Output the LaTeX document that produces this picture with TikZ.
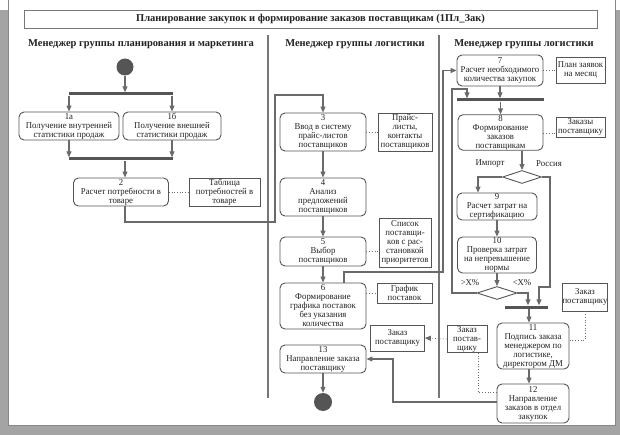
\documentclass[tikz,border=0pt]{standalone}
\usepackage{fontspec}
\setmainfont{Liberation Serif}
\newfontfamily\condfont[FakeStretch=0.97]{Liberation Serif}
\usetikzlibrary{arrows.meta,shapes.geometric}
\definecolor{bgc}{HTML}{A4A4A4}
\definecolor{boxc}{HTML}{555555}
\definecolor{linec}{HTML}{6A6A6A}
\definecolor{txtc}{HTML}{222222}
\newcommand{\fs}{\condfont\fontsize{9}{9}\selectfont}
\tikzset{
  act/.style={draw=boxc, line width=0.9pt, rounded corners=5pt, fill=white, align=center, inner sep=0.3pt, font=\fs, text=txtc},
  notebox/.style={draw=boxc, line width=0.8pt, fill=white, align=center, inner sep=0.3pt, font=\fs, text=txtc},
  barnode/.style={fill=boxc, draw=none, minimum height=3pt, inner sep=0pt},
  flow/.style={draw=linec, line width=1.1pt, -{Triangle[length=6pt,width=5pt]}},
  dotline/.style={draw=linec, line width=0.7pt, dotted},
  dec/.style={diamond, draw=boxc, line width=0.9pt, fill=white, inner sep=0pt, aspect=3},
  lbl/.style={font=\fs, text=txtc, inner sep=0pt},
  hdr/.style={font=\fontsize{10.5}{12}\selectfont\bfseries, text=txtc, inner sep=0pt},
  lane/.style={draw=boxc!80, line width=2.4pt},
  startdot/.style={circle, fill=boxc, minimum size=17pt, inner sep=0pt}
}
\begin{document}
\begin{tikzpicture}[x=1pt,y=-1pt]
\useasboundingbox (0,0) rectangle (620,435);
% page and shadow
\fill[bgc] (0,10) rectangle (620,435);
\fill[white] (8,0) rectangle (615,425);
\draw[boxc!70, line width=0.8pt] (8.4,-1) -- (8.4,425) -- (615,425) -- (615,-1);
% title
\node[draw=boxc!80, line width=0.9pt, minimum width=573pt, minimum height=18pt, inner sep=0pt, font=\fontsize{10.5}{12}\selectfont\bfseries, text=txtc] (title) at (310.5,19) {Планирование закупок и формирование заказов поставщикам (1Пл\_Зак)};
% headers
\node[hdr] (h1) at (141,44) {Менеджер группы планирования и маркетинга};
\node[hdr] (h2) at (355,44) {Менеджер группы логистики};
\node[hdr] (h3) at (524,44) {Менеджер группы логистики};
% lane dividers
\coordinate (l1t) at (268,35); \coordinate (l1b) at (268,398);
\coordinate (l2t) at (439,35); \coordinate (l2b) at (439,398);
\draw[lane] (l1t) -- (l1b);
\draw[lane] (l2t) -- (l2b);

% ---------- left lane
\node[startdot] (start) at (125,67) {};
\node[barnode, minimum width=104pt] (fork) at (121,94) {};
\node[act, minimum width=100pt, minimum height=28pt] (a1) at (69,126) {1а\\Получение внутренней\\статистики продаж};
\node[act, minimum width=98pt, minimum height=28pt] (b1) at (172,126) {1б\\Получение внешней\\статистики продаж};
\node[barnode, minimum width=104pt] (join) at (121,159) {};
\node[act, minimum width=95pt, minimum height=28pt] (s2) at (121,192) {2\\Расчет потребности в\\товаре};
\node[notebox, minimum width=71pt, minimum height=28pt] (tab) at (224.5,192) {Таблица\\потребностей в\\товаре};

\draw[flow] (start) -- (start |- fork.north);
\draw[flow] (fork.south -| a1.north) -- (a1.north);
\draw[flow] (fork.south -| b1.north) -- (b1.north);
\draw[flow] (a1.south) -- (join.north -| a1.south);
\draw[flow] (b1.south) -- (join.north -| b1.south);
\draw[flow] (join.south -| start) -- (s2.north -| start);
\draw[dotline] (s2.east) -- (tab.west);

% ---------- middle lane
\node[act, minimum width=86pt, minimum height=38pt] (s3) at (323,132) {3\\Ввод в систему\\прайс-листов\\поставщиков};
\node[notebox, minimum width=54pt, minimum height=38pt] (price) at (405,132) {Прайс-\\листы,\\контакты\\поставщиков};
\node[act, minimum width=86pt, minimum height=38pt] (s4) at (323,197) {4\\Анализ\\предложений\\поставщиков};
\node[act, minimum width=86pt, minimum height=29pt] (s5) at (323,251.5) {5\\Выбор\\поставщиков};
\node[notebox, minimum width=52pt, minimum height=49pt] (list) at (405,242.5) {Список\\поставщи-\\ков с рас-\\становкой\\приоритетов};
\node[act, minimum width=86pt, minimum height=46pt] (s6) at (323,306) {6\\Формирование\\графика поставок\\без указания\\количества};
\node[notebox, minimum width=55pt, minimum height=20pt] (graf) at (404.5,293) {График\\поставок};
\node[notebox, minimum width=54pt, minimum height=26pt] (zl) at (397.5,338) {Заказ\\поставщику};
\node[act, minimum width=86pt, minimum height=28pt] (s13) at (323,359) {13\\Направление заказа\\поставщику};
\node[startdot, minimum size=18pt] (end) at (323,402) {};

\draw[flow] ([xshift=4pt]s2.south) |- (275,222) |- (323,95) -- (s3.north);
\draw[flow] (s3) -- (s4);
\draw[flow] (s4) -- (s5);
\draw[flow] (s5) -- (s6);
\draw[flow] (s13) -- (end);
\draw[dotline] (s3.east) -- (price.west);
\draw[dotline] (s5.east) -- (s5.east -| list.west);
\draw[dotline] (s6.east |- graf.west) -- (graf.west);

% ---------- right lane
\node[act, minimum width=86pt, minimum height=31pt] (s7) at (500,70.5) {7\\Расчет необходимого\\количества закупок};
\node[notebox, minimum width=49pt, minimum height=26pt] (plan) at (580.5,70) {План заявок\\на месяц};
\node[barnode, minimum width=87pt] (bar2) at (500.5,100) {};
\node[act, minimum width=85pt, minimum height=31pt] (s8) at (500.5,132.5) {8\\Формирование\\заказов\\поставщикам};
\node[notebox, minimum width=49pt, minimum height=20pt] (zak) at (580.5,127) {Заказы\\поставщику};
\node[dec, minimum width=39pt, minimum height=13pt] (d1) at (522,177) {};
\node[lbl] (imp) at (490,164) {Импорт};
\node[lbl] (rus) at (549,164) {Россия};
\node[act, minimum width=80pt, minimum height=27pt] (s9) at (497,206.5) {9\\Расчет затрат на\\сертификацию};
\node[act, minimum width=79pt, minimum height=36pt] (s10) at (497,255) {10\\Проверка затрат\\на непревышение\\нормы};
\node[dec, minimum width=40pt, minimum height=13pt] (d2) at (497,293) {};
\node[lbl] (gx) at (470,283) {>X\%};
\node[lbl] (lx) at (522,283) {<X\%};
\node[barnode, minimum width=43pt] (bar3) at (526.5,307) {};
\node[act, minimum width=72pt, minimum height=46pt] (s11) at (533,346) {11\\Подпись заказа\\менеджером по\\логистике,\\директором ДМ};
\node[act, minimum width=72pt, minimum height=39pt] (s12) at (533,403.5) {12\\Направление\\заказов в отдел\\закупок};
\node[notebox, minimum width=44pt, minimum height=28pt] (zr) at (585,297) {Заказ\\поставщику};
\node[notebox, minimum width=40pt, minimum height=27pt] (zm) at (467,339) {Заказ\\постав-\\щику};

\draw[flow] ([xshift=21pt]s6.north) |- (443,272) |- (s7.west);
\draw[dotline] (s7.east |- plan.west) -- (plan.west);
\draw[flow] (s7.south) -- (bar2.north -| s7.south);
\draw[flow] (bar2.south) -- (s8.north);
\draw[dotline] ([yshift=-0.5pt]s8.east) -- ([yshift=-0.5pt]s8.east -| zak.west);
\draw[flow] (s8.south -| d1.north) -- (d1.north);
\draw[flow] (d1.west) -| ([xshift=-19pt]s9.north);
\draw[flow] (d1.east) -| (550,287) -| ([xshift=12.5pt]bar3.north);
\draw[flow] (s9) -- (s10);
\draw[flow] (s10) -- (d2);
\draw[flow] (d2.west) -| (452,89) -| ([xshift=-33.5pt]bar2.north);
\draw[flow] (d2.east) -| ([xshift=1.5pt]bar3.north);
\draw[flow] (bar3.south -| 529,0) -- ([xshift=-4pt]s11.north);
\draw[flow] ([xshift=-4pt]s11.south) -- ([xshift=-4pt]s12.north);
\draw[dotline] (zr.south) |- ([yshift=6pt]s11.east);
\draw[dotline] ([xshift=11pt]zm.south) |- ([yshift=11.5pt]s12.west);
\draw[dotline, -{Triangle[length=6pt,width=5pt]}, linec] (zm.west) -- (zl.east);
\draw[flow] ([yshift=1.5pt]s12.west) -| (393,359) -- (s13.east);
\end{tikzpicture}
\end{document}
